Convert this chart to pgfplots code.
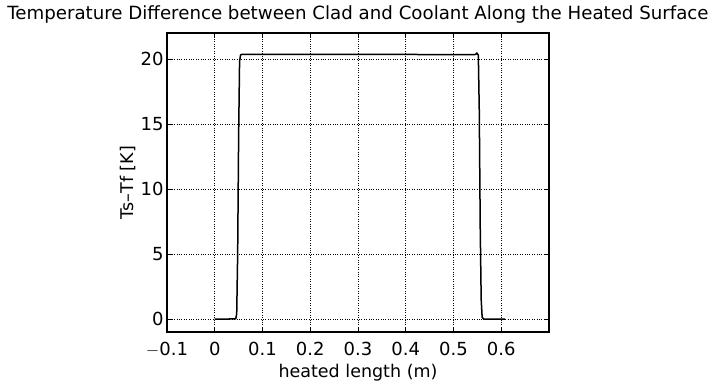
\documentclass[border=0pt]{standalone}
\usepackage{pgfplots}
\pgfplotsset{compat=1.18}
\usepackage{fontspec}
\setmainfont{DejaVu Sans}
\begin{document}
\begin{tikzpicture}
\begin{axis}[
  name=ax,
  at={(0,0)}, anchor=south west,
  scale only axis, width=382pt, height=299pt,
  xmin=-0.1, xmax=0.7, ymin=-1, ymax=22,
  xtick={-0.1,0,0.1,0.2,0.3,0.4,0.5,0.6},
  xticklabels={$-$0.1,0,0.1,0.2,0.3,0.4,0.5,0.6},
  ytick={0,5,10,15,20},
  tick align=inside, tick pos=both,
  major tick length=5pt,
  grid=major,
  major grid style={black, dotted, line width=0.7pt},
  axis line style={black, line width=1.4pt},
  every tick/.style={black, line width=0.9pt},
  /pgf/number format/assume math mode=true,
  tick label style={font=\fontsize{18}{21}\selectfont},
  xticklabel style={yshift=-7pt},
  label style={font=\fontsize{17.5}{21}\selectfont},
  title style={font=\fontsize{18.2}{21}\selectfont, yshift=0pt},
  title={Temperature Difference between Clad and Coolant Along the Heated Surface},
  xlabel={heated length (m)},
  ylabel={Ts–Tf [K]},
  xlabel style={yshift=0pt},
  ylabel style={yshift=-2pt},
]
\addplot[black, line width=1.5pt] coordinates {
(0,0) (0.030,0) (0.044,0.02) (0.046,0.4) (0.048,5) (0.050,14) (0.052,19.8) (0.054,20.3) (0.056,20.35)
(0.2,20.35) (0.4,20.35) (0.540,20.33) (0.546,20.35) (0.549,20.45) (0.552,20.3)
(0.554,16) (0.556,7) (0.558,1.5) (0.560,0.15) (0.563,0) (0.608,0)
};
\end{axis}
\pgfresetboundingbox
\path[use as bounding box] (-167pt,-52pt) rectangle (548pt,332pt);
\end{tikzpicture}
\end{document}
